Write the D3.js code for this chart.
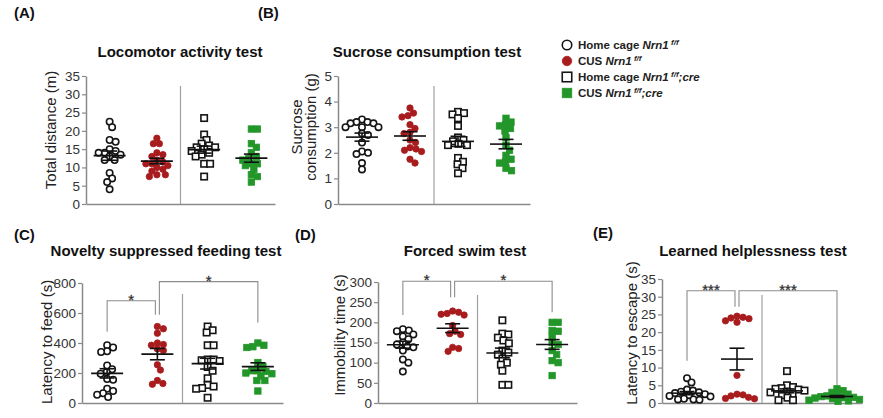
<!DOCTYPE html>
<html><head><meta charset="utf-8">
<script src="https://cdn.jsdelivr.net/npm/d3@7"></script>
<style>body{margin:0;background:#fff}svg{display:block}</style>
</head><body>
<svg id="chart" width="883" height="418"></svg>
<script>
// ---------- DATA ----------
const groupNames = ["Home cage Nrn1 f/f", "CUS Nrn1 f/f", "Home cage Nrn1 f/f;cre", "CUS Nrn1 f/f;cre"];

// (A) Locomotor activity test - Total distance (m)
const locoHomeFF = [22.5, 21, 17.5, 17, 15, 14.5, 14, 14, 13.5, 13, 12, 12, 8.5, 7, 6, 4];
const locoCusFF = [18, 16.5, 16.5, 14, 13.5, 13, 12, 11.5, 11, 11, 10.5, 10, 9.5, 9, 8, 8, 7.5];
const locoHomeCre = [23.5, 19, 17.5, 16.5, 16, 15.5, 15.5, 15, 14.5, 14, 13.5, 13, 11, 11, 7.5];
const locoCusCre = [20.5, 20.5, 16.5, 15.5, 14, 13, 12.5, 12, 11, 11, 10.5, 9.5, 8, 7.5, 6];
const locoTicks = [0, 5, 10, 15, 20, 25, 30, 35];

// (B) Sucrose consumption test - Sucrose consumption (g)
const sucHomeFF = [3.3, 3.2, 3.2, 3.15, 3.15, 3.0, 3.0, 3.0, 2.75, 2.7, 2.4, 2.05, 2.0, 1.95, 1.6, 1.35];
const sucCusFF = [3.75, 3.55, 3.45, 3.4, 3.1, 2.95, 2.8, 2.75, 2.5, 2.4, 2.2, 2.15, 2.1, 2.05, 1.75, 1.6];
const sucHomeCre = [3.6, 3.55, 3.5, 3.35, 3.05, 2.6, 2.5, 2.45, 2.35, 2.3, 2.3, 1.8, 1.65, 1.55, 1.4, 1.2];
const sucCusCre = [3.35, 3.2, 3.1, 3.05, 2.95, 2.85, 2.6, 2.3, 2.1, 1.9, 1.75, 1.65, 1.6, 1.4, 1.3];
const sucTicks = [0, 1, 2, 3, 4, 5];

// (C) Novelty suppressed feeding test - Latency to feed (s)
const nsfHomeFF = [385, 370, 345, 340, 250, 225, 205, 195, 160, 155, 95, 80, 65, 55, 40];
const nsfCusFF = [510, 495, 465, 400, 390, 385, 360, 350, 255, 220, 150, 130, 125];
const nsfHomeCre = [510, 485, 470, 385, 385, 290, 280, 290, 285, 240, 215, 165, 120, 110, 100, 95, 35];
const nsfCusCre = [400, 385, 370, 375, 270, 245, 215, 215, 210, 200, 195, 180, 150, 150, 80];
const nsfTicks = [0, 200, 400, 600, 800];
const nsfSig = [{a: 0, b: 1, label: "*"}, {a: 1, b: 3, label: "*"}];

// (D) Forced swim test - Immobility time (s)
const fstHomeFF = [183, 180, 178, 170, 165, 158, 150, 145, 140, 138, 130, 108, 100, 78];
const fstCusFF = [228, 225, 222, 220, 218, 192, 178, 172, 170, 138, 135, 128];
const fstHomeCre = [205, 172, 170, 162, 155, 148, 130, 125, 120, 110, 100, 95, 80, 45, 45];
const fstCusCre = [200, 200, 180, 178, 165, 150, 145, 130, 120, 105, 100, 68];
const fstTicks = [0, 50, 100, 150, 200, 250, 300];
const fstSig = [{a: 0, b: 1, label: "*"}, {a: 1, b: 3, label: "*"}];

// (E) Learned helplessness test - Latency to escape (s)
const lhHomeFF = [7, 5.8, 3.8, 3.5, 3.2, 3, 2.8, 2.5, 2.2, 2, 1.8, 1.2, 1, 1, 0.9];
const lhCusFF = [24.5, 24.2, 24.0, 23.8, 23.2, 22.8, 7.8, 2.5, 2.3, 2.0, 1.6, 1.3, 1.2];
const lhHomeCre = [9, 5, 4.5, 4.2, 4, 3.8, 3.5, 3.2, 3, 2.5, 2.2, 1.5, 0.8, 0.8];
const lhCusCre = [4, 3.5, 3, 2.5, 2.2, 2, 1.8, 1.6, 1.5, 1.4, 1.2, 1, 0.8, 0.6, 0.5];
const lhTicks = [0, 5, 10, 15, 20, 25, 30, 35];
const lhSig = [{a: 0, b: 1, label: "***"}, {a: 1, b: 3, label: "***"}];

// ---------- STYLE / LAYOUT ----------
const RED = "#a81c1e", GREEN = "#23962a", BLK = "#151515";
const AXIS = "#8a8a8a", FONT = "'Liberation Sans', Arial, Helvetica, sans-serif";
const groupStyles = [
  {shape: "circle", fill: "#fff", stroke: BLK},
  {shape: "circle", fill: RED, stroke: RED},
  {shape: "square", fill: "#fff", stroke: BLK},
  {shape: "square", fill: GREEN, stroke: GREEN}
];

const panels = [
  {letter: "(A)", lx: 14, ly: 18, title: "Locomotor activity test", tx: 180, ty: 57,
   ylabel: ["Total distance (m)"], ylx: [56], yly: 130,
   data: [locoHomeFF, locoCusFF, locoHomeCre, locoCusCre], ticks: locoTicks, domain: [0, 35],
   x0: 86, x1: 275, yTop: 76, yBot: 204, sepTop: 86, sig: [], levels: []},
  {letter: "(B)", lx: 258, ly: 18, title: "Sucrose consumption test", tx: 427, ty: 57,
   ylabel: ["Sucrose", "consumption (g)"], ylx: [302, 316], yly: 127,
   data: [sucHomeFF, sucCusFF, sucHomeCre, sucCusCre], ticks: sucTicks, domain: [0, 5],
   x0: 338, x1: 530, yTop: 76, yBot: 204, sepTop: 86, sig: [], levels: []},
  {letter: "(C)", lx: 14, ly: 240, title: "Novelty suppressed feeding test", tx: 166, ty: 256,
   ylabel: ["Latency to feed (s)"], ylx: [52], yly: 342,
   data: [nsfHomeFF, nsfCusFF, nsfHomeCre, nsfCusCre], ticks: nsfTicks, domain: [0, 800],
   x0: 82, x1: 283, yTop: 283, yBot: 403, sepTop: 294, sig: nsfSig,
   levels: [{top: 682, la: 475, lb: 589}, {top: 809, la: 589, lb: 535}]},
  {letter: "(D)", lx: 295, ly: 240, title: "Forced swim test", tx: 465, ty: 256,
   ylabel: ["Immobility time (s)"], ylx: [345], yly: 335,
   data: [fstHomeFF, fstCusFF, fstHomeCre, fstCusCre], ticks: fstTicks, domain: [0, 300],
   x0: 378, x1: 577, yTop: 282, yBot: 403, sepTop: 295, sig: fstSig,
   levels: [{top: 302, la: 218, lb: 262}, {top: 302, la: 262, lb: 225}]},
  {letter: "(E)", lx: 593, ly: 238, title: "Learned helplessness test", tx: 753, ty: 256,
   ylabel: ["Latency to escape (s)"], ylx: [637], yly: 333,
   data: [lhHomeFF, lhCusFF, lhHomeCre, lhCusCre], ticks: lhTicks, domain: [0, 35],
   x0: 662, x1: 862, yTop: 279, yBot: 403, sepTop: 295, sig: lhSig,
   levels: [{top: 31.7, la: 11.9, lb: 27.2}, {top: 31.7, la: 27.2, lb: 2.9}]}
];

const svg = d3.select("#chart");
svg.append("rect").attr("width", 883).attr("height", 418).attr("fill", "#fff");

// deterministic beeswarm (dodge) offsets
function dodge(values, y, dist) {
  const pts = values.map(v => ({v, y: y(v)})).sort((a, b) => a.y - b.y);
  const placed = [];
  for (const p of pts) {
    let off = 0;
    for (let k = 0; k < 400; k++) {
      const o = (k % 2 === 1 ? 1 : -1) * Math.ceil(k / 2) * 0.5;
      if (placed.every(q => (q.dx - o) ** 2 + (q.y - p.y) ** 2 >= dist * dist)) { off = o; break; }
    }
    p.dx = off;
    placed.push(p);
  }
  return placed;
}

function drawMarker(g, style, cx, cy, size) {
  if (style.shape === "circle") {
    g.append("circle").attr("cx", cx).attr("cy", cy).attr("r", size / 2)
      .attr("fill", style.fill).attr("stroke", style.stroke).attr("stroke-width", style.fill === "#fff" ? 1.6 : 0.8);
  } else {
    g.append("rect").attr("x", cx - size / 2).attr("y", cy - size / 2).attr("width", size).attr("height", size)
      .attr("fill", style.fill).attr("stroke", style.stroke).attr("stroke-width", style.fill === "#fff" ? 1.6 : 0.8);
  }
}

panels.forEach(p => {
  const g = svg.append("g");
  const y = d3.scaleLinear().domain(p.domain).range([p.yBot, p.yTop]);
  const x = d3.scaleBand().domain(d3.range(4)).range([p.x0, p.x1]);
  const cx = i => x(i) + x.bandwidth() / 2;

  // panel letter + title
  g.append("text").attr("x", p.lx).attr("y", p.ly).text(p.letter)
    .attr("font-family", FONT).attr("font-weight", "bold").attr("font-size", 15).attr("fill", "#111");
  g.append("text").attr("x", p.tx).attr("y", p.ty).attr("text-anchor", "middle").text(p.title)
    .attr("font-family", FONT).attr("font-weight", "bold").attr("font-size", 15).attr("fill", "#111");

  // y label
  p.ylabel.forEach((t, i) => {
    g.append("text").attr("transform", `translate(${p.ylx[i]},${p.yly}) rotate(-90)`)
      .attr("text-anchor", "middle").text(t)
      .attr("font-family", FONT).attr("font-size", 15).attr("fill", "#222");
  });

  // axes
  const ya = g.append("g").attr("transform", `translate(${p.x0},0)`)
    .call(d3.axisLeft(y).tickValues(p.ticks).tickFormat(d3.format("d")).tickSize(4).tickSizeOuter(0).tickPadding(2));
  ya.select(".domain").attr("stroke", AXIS).attr("stroke-width", 1.5);
  ya.selectAll(".tick line").attr("stroke", AXIS).attr("stroke-width", 1.2);
  ya.selectAll(".tick text").attr("font-family", FONT).attr("font-size", 13.5).attr("fill", "#333");
  const xa = g.append("g").attr("transform", `translate(0,${p.yBot})`)
    .call(d3.axisBottom(x).tickValues([]).tickSizeOuter(0));
  xa.select(".domain").attr("stroke", AXIS).attr("stroke-width", 1.5);

  // separator
  g.append("line").attr("x1", x(2)).attr("x2", x(2)).attr("y1", p.sepTop).attr("y2", p.yBot)
    .attr("stroke", "#a0a0a0").attr("stroke-width", 1.2);

  // brackets
  p.sig.forEach((s, i) => {
    const lv = p.levels[i];
    const xa1 = cx(s.a) + (s.a === 1 ? 2 : 0), xb1 = cx(s.b) + (s.b === 1 ? -2 : 0);
    g.append("path")
      .attr("d", `M${xa1},${y(lv.la)}V${y(lv.top)}H${xb1}V${y(lv.lb)}`)
      .attr("fill", "none").attr("stroke", "#8c8c8c").attr("stroke-width", 1.1);
    g.append("text").attr("x", (xa1 + xb1) / 2).attr("y", y(lv.top) + 4).attr("text-anchor", "middle")
      .text(s.label).attr("font-family", FONT).attr("font-size", 15).attr("fill", "#222")
      .attr("stroke", "#444").attr("stroke-width", 0.3);
  });

  // points
  p.data.forEach((vals, gi) => {
    const st = groupStyles[gi];
    const pts = dodge(vals, y, 6.0);
    pts.forEach(pt => drawMarker(g, st, cx(gi) + pt.dx, pt.y, 6.4));
    // mean + SEM
    const m = d3.mean(vals), sem = d3.deviation(vals) / Math.sqrt(vals.length);
    const c = cx(gi);
    g.append("line").attr("x1", c - 16).attr("x2", c + 16).attr("y1", y(m)).attr("y2", y(m))
      .attr("stroke", "#111").attr("stroke-width", 1.6);
    g.append("line").attr("x1", c).attr("x2", c).attr("y1", y(m - sem)).attr("y2", y(m + sem))
      .attr("stroke", "#111").attr("stroke-width", 1.6);
    [m - sem, m + sem].forEach(v => g.append("line").attr("x1", c - 7.5).attr("x2", c + 7.5)
      .attr("y1", y(v)).attr("y2", y(v)).attr("stroke", "#111").attr("stroke-width", 1.6));
  });
});

// legend
const legendParts = [
  [["Home cage ", false, false], ["Nrn1", true, false], [" f/f", true, true]],
  [["CUS ", false, false], ["Nrn1", true, false], [" f/f", true, true]],
  [["Home cage ", false, false], ["Nrn1", true, false], [" f/f", true, true], [";cre", true, false]],
  [["CUS ", false, false], ["Nrn1", true, false], [" f/f", true, true], [";cre", true, false]]
];
const legY = d3.scalePoint().domain(d3.range(4)).range([45, 93]);
const lg = svg.append("g");
groupNames.forEach((name, i) => {
  const st = groupStyles[i];
  drawMarker(lg, {...st, fill: st.fill}, 567, legY(i), 9.5);
  const t = lg.append("text").attr("x", 578).attr("y", legY(i) + 4)
    .attr("font-family", FONT).attr("font-weight", "bold").attr("font-size", 11.5).attr("fill", "#222");
  let sup = false;
  legendParts[i].forEach(([txt, it, isSup]) => {
    const ts = t.append("tspan").text(txt).attr("font-style", it ? "italic" : "normal");
    if (isSup && !sup) { ts.attr("dy", -4).attr("font-size", 8); sup = true; }
    else if (!isSup && sup) { ts.attr("dy", 4); sup = false; }
  });
});
</script>
</body></html>
